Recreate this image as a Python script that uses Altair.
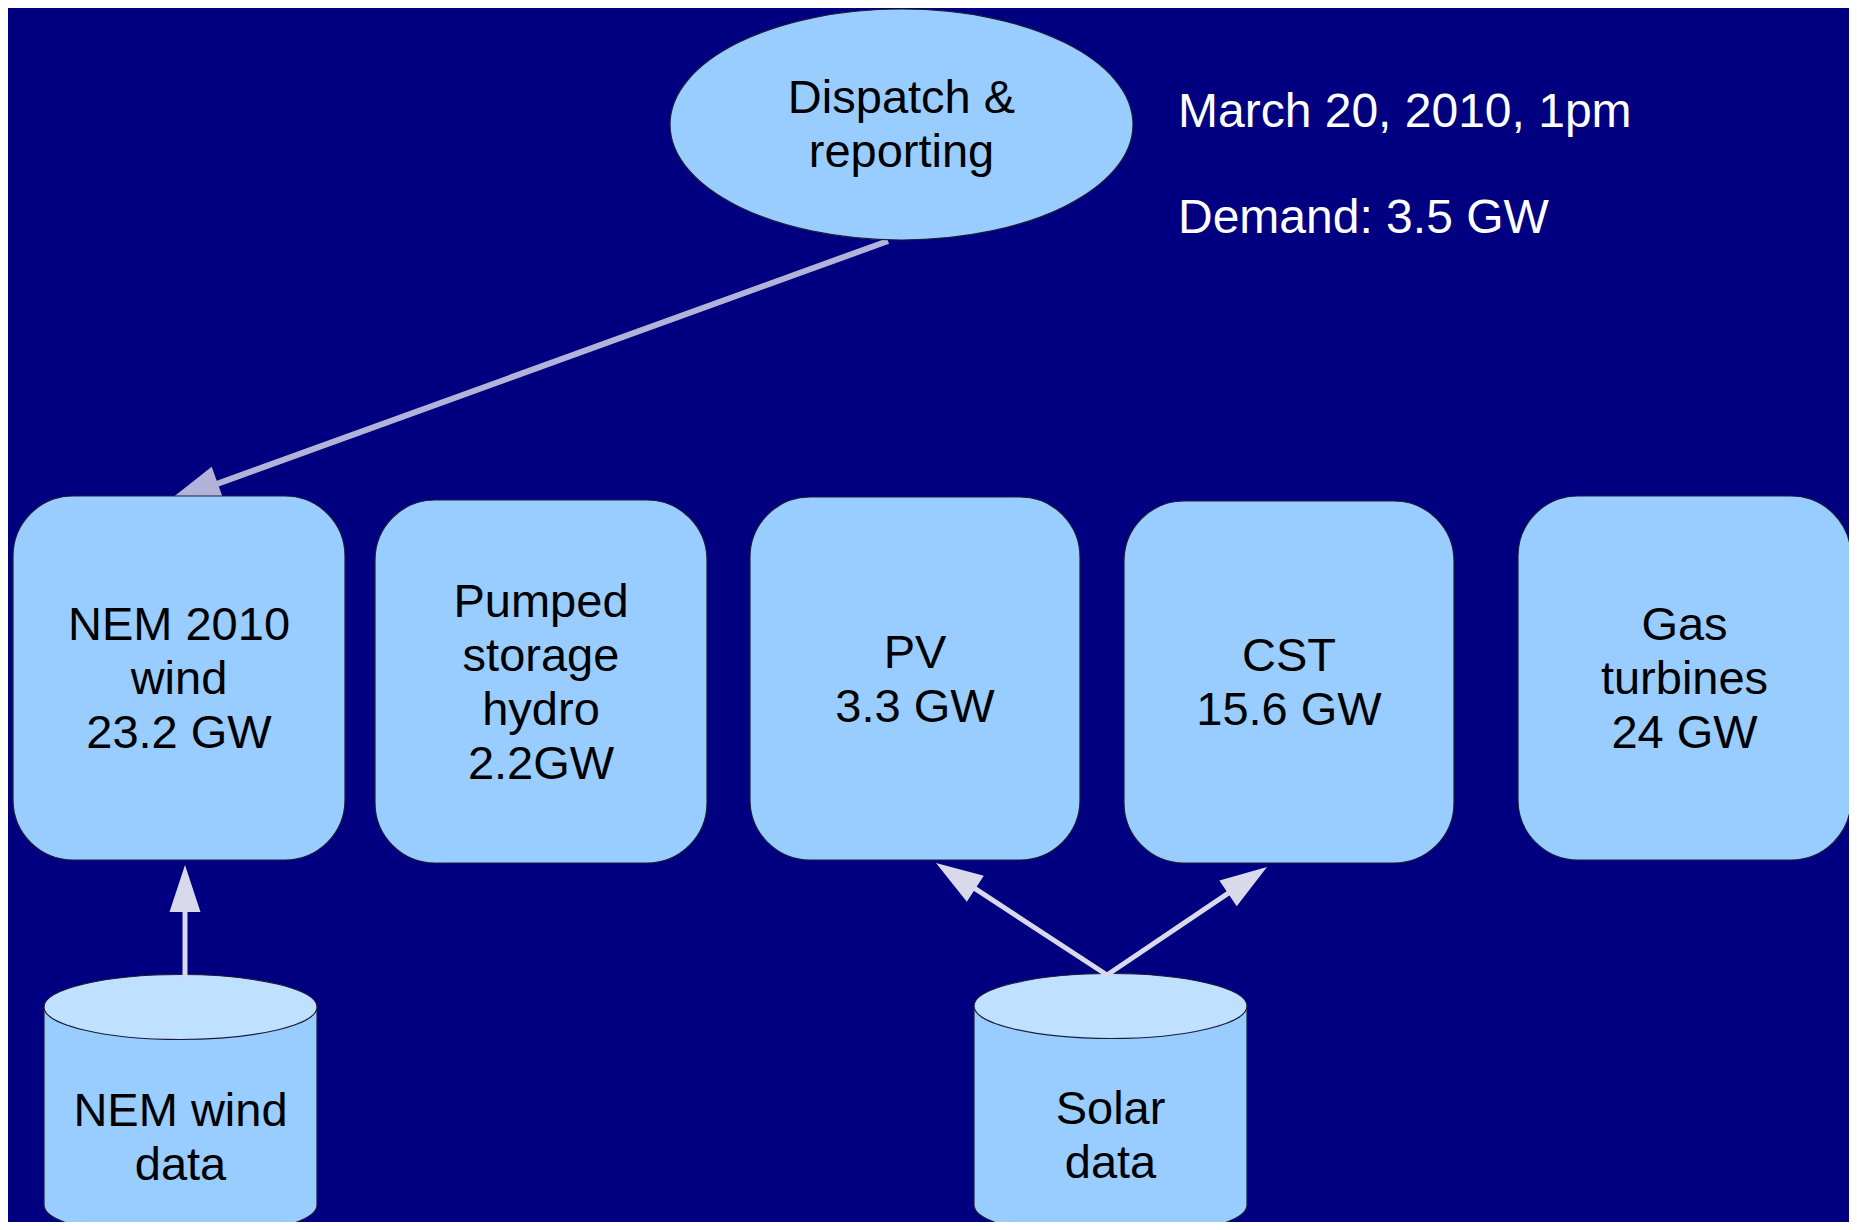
import math
import altair as alt
import pandas as pd

# ---------------- data (diagram coordinates, origin top-left) ----------------
W, H = 1841, 1214
OFF = 8

BG = "#000080"
BOX = "#99ccff"
TOP = "#c0e0ff"
EDGE = "#1c1c3a"
FONT = "Liberation Sans"
FS = 47
LH = 54

box_labels = ["NEM 2010\nwind\n23.2 GW", "Pumped\nstorage\nhydro\n2.2GW",
              "PV\n3.3 GW", "CST\n15.6 GW", "Gas\nturbines\n24 GW"]
box_left = [13, 375, 750, 1124, 1518]
box_right = [345, 707, 1080, 1454, 1851]
box_top = [496, 500, 497, 501, 496]
box_bottom = [860, 863, 860, 863, 860]

hub_label = "Dispatch &\nreporting"
hub_cx, hub_cy, hub_rx, hub_ry = 901.5, 124.5, 231.5, 115.5

header_lines = ["March 20, 2010, 1pm", "Demand: 3.5 GW"]
header_x = [1178, 1178]
header_base = [127, 233]

store_labels = ["NEM wind\ndata", "Solar\ndata"]
store_left = [44, 974]
store_right = [317, 1247]
store_top = [1007, 1006]
store_bottom = [1205, 1205]
store_text_y = [1139, 1137]
store_ry = 32.5

arrow_from_x = [888, 185, 1107, 1107]
arrow_from_y = [241, 978, 975, 975]
arrow_to_x = [167, 185, 936, 1267]
arrow_to_y = [502, 865, 863, 867]
arrow_head = [54, 47, 47, 47]
arrow_width = [6, 5, 5, 5]
arrow_color = ["#b3b3d9", "#d9d9ec", "#d9d9ec", "#d9d9ec"]

# ---------------- helpers ----------------
def ellipse_path(b):
    k = 0.5523
    return (f"M -1 0 C -1 {-k*b:.4f} {-k:.4f} {-b:.4f} 0 {-b:.4f} "
            f"C {k:.4f} {-b:.4f} 1 {-k*b:.4f} 1 0 "
            f"C 1 {k*b:.4f} {k:.4f} {b:.4f} 0 {b:.4f} "
            f"C {-k:.4f} {b:.4f} -1 {k*b:.4f} -1 0 Z")

HEAD_PATH = "M 0 0 L 0.33 1 L -0.33 1 Z"

xs = alt.Scale(domain=[OFF, OFF + W], nice=False, zero=False)
ys = alt.Scale(domain=[OFF, OFF + H], nice=False, zero=False, reverse=True)

def X(f):
    return alt.X(f"{f}:Q", scale=xs, axis=None)

def Y(f):
    return alt.Y(f"{f}:Q", scale=ys, axis=None)

def first_line_y(center, label):
    n = label.count("\n") + 1
    return center - (n - 1) * LH / 2

# ---------------- tables ----------------
boxes = pd.DataFrame({
    "label": box_labels, "l": box_left, "r": box_right,
    "t": box_top, "b": box_bottom,
})
boxes["cx"] = (boxes["l"] + boxes["r"]) / 2
boxes["ty"] = [first_line_y((t + b) / 2 + 2, s)
               for t, b, s in zip(box_top, box_bottom, box_labels)]

stores = pd.DataFrame({
    "label": store_labels, "l": store_left, "r": store_right,
    "t": store_top, "b": store_bottom,
})
stores["cx"] = (stores["l"] + stores["r"]) / 2
stores["ty"] = [first_line_y(c, s) for c, s in zip(store_text_y, store_labels)]
sides = pd.DataFrame({
    "x": store_left + store_right,
    "t": store_top + store_top,
    "b": store_bottom + store_bottom,
})

rows = []
for fx, fy, tx, ty, hl, sw, c in zip(arrow_from_x, arrow_from_y, arrow_to_x,
                                     arrow_to_y, arrow_head, arrow_width, arrow_color):
    dx, dy = tx - fx, ty - fy
    n = math.hypot(dx, dy)
    ux, uy = dx / n, dy / n
    ang = math.degrees(math.atan2(dx, -dy)) % 360
    rows.append({"fx": fx, "fy": fy, "ex": tx - ux * (hl - 8),
                 "ey": ty - uy * (hl - 8), "tx": tx, "ty": ty,
                 "col": c, "ang": ang, "sz": (2 * hl) ** 2, "sw": sw})
arrows = pd.DataFrame(rows)
long_arrow = arrows.iloc[[0]]
short_arrows = arrows.iloc[1:]

hub = pd.DataFrame({"x": [hub_cx], "y": [hub_cy], "label": [hub_label],
                    "ty": [first_line_y(hub_cy + 1, hub_label)]})
header = pd.DataFrame({"x": header_x, "y": header_base, "label": header_lines})

# ---------------- layers ----------------
def arrow_layers(df):
    line = alt.Chart(df).mark_rule(strokeCap="butt").encode(
        x=X("fx"), y=Y("fy"), x2="ex:Q", y2="ey:Q",
        strokeWidth=alt.StrokeWidth("sw:Q", scale=None),
        color=alt.Color("col:N", scale=None))
    head = alt.Chart(df).mark_point(
        shape=HEAD_PATH, filled=True, opacity=1, strokeWidth=0).encode(
        x=X("tx"), y=Y("ty"),
        size=alt.Size("sz:Q", scale=None),
        color=alt.Color("col:N", scale=None),
        angle=alt.Angle("ang:Q", scale=None))
    return [line, head]

box_rects = alt.Chart(boxes).mark_rect(
    cornerRadius=60, fill=BOX, stroke=EDGE, strokeWidth=1.2).encode(
    x=X("l"), x2="r:Q", y=Y("t"), y2="b:Q")

text_kw = dict(font=FONT, fontSize=FS, lineHeight=LH, lineBreak="\n",
               align="center", baseline="middle", color="#000000")

box_text = alt.Chart(boxes).mark_text(**text_kw).encode(
    x=X("cx"), y=Y("ty"), text="label:N")

hub_shape = alt.Chart(hub).mark_point(
    shape=ellipse_path(hub_ry / hub_rx), filled=True, fill=BOX, stroke=EDGE,
    strokeWidth=1.2, opacity=1, fillOpacity=1, strokeOpacity=1,
    size=(2 * hub_rx) ** 2).encode(x=X("x"), y=Y("y"))
hub_text = alt.Chart(hub).mark_text(**text_kw).encode(
    x=X("x"), y=Y("ty"), text="label:N")

header_text = alt.Chart(header).mark_text(
    font=FONT, fontSize=48, align="left", baseline="alphabetic",
    color="#ffffff").encode(x=X("x"), y=Y("y"), text="label:N")

store_rx = (store_right[0] - store_left[0]) / 2
ell = ellipse_path(store_ry / store_rx)
ell_size = (2 * store_rx) ** 2

store_bottom_ell = alt.Chart(stores).mark_point(
    shape=ell, filled=True, fill=BOX, stroke=EDGE, strokeWidth=1.2,
    opacity=1, fillOpacity=1, strokeOpacity=1, size=ell_size).encode(
    x=X("cx"), y=Y("b"))
store_body = alt.Chart(stores).mark_rect(fill=BOX, strokeWidth=0).encode(
    x=X("l"), x2="r:Q", y=Y("t"), y2="b:Q")
store_sides = alt.Chart(sides).mark_rule(color=EDGE, strokeWidth=1.2).encode(
    x=X("x"), y=Y("t"), y2="b:Q")
store_top_ell = alt.Chart(stores).mark_point(
    shape=ell, filled=True, fill=TOP, stroke=EDGE, strokeWidth=1.2,
    opacity=1, fillOpacity=1, strokeOpacity=1, size=ell_size).encode(
    x=X("cx"), y=Y("t"))
store_text = alt.Chart(stores).mark_text(**text_kw).encode(
    x=X("cx"), y=Y("ty"), text="label:N")

layers = (arrow_layers(long_arrow)
          + [box_rects, box_text, hub_shape, hub_text, header_text,
             store_bottom_ell, store_body, store_sides, store_top_ell, store_text]
          + arrow_layers(short_arrows))

chart = alt.layer(*layers).properties(
    width=W, height=H, background=BG, padding=0,
    autosize=alt.AutoSizeParams(type="none"),
).configure_view(stroke=None)

chart.save("out.html", embed_options={"renderer": "svg", "actions": False})
